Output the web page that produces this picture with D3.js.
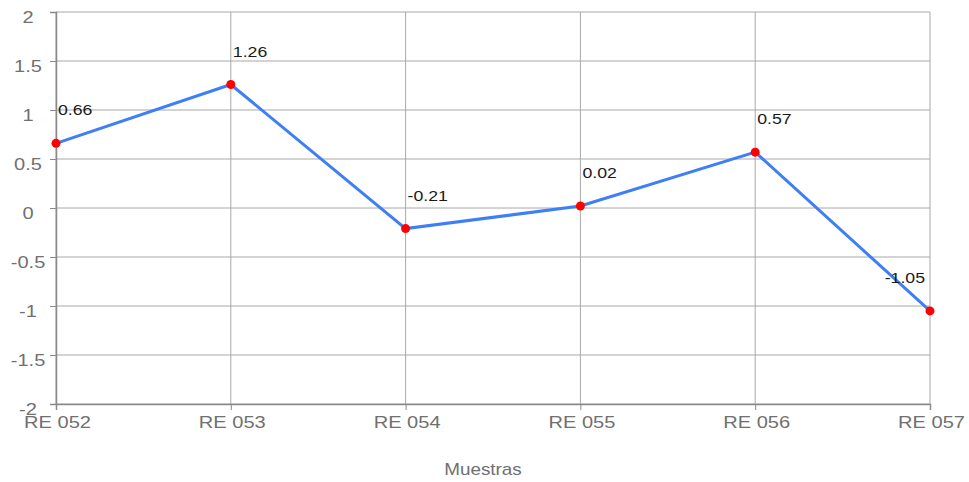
<!DOCTYPE html>
<html>
<head>
<meta charset="utf-8">
<script src="https://cdn.jsdelivr.net/npm/d3@7"></script>
<style>
body { margin:0; background:#fff; }
text { font-family: "Liberation Sans", Arial, sans-serif; }
</style>
</head>
<body>
<svg id="chart" width="969" height="482"></svg>
<script>
// chart data
var categories = ['RE 052', 'RE 053', 'RE 054', 'RE 055', 'RE 056', 'RE 057']
var values = [0.66, 1.26, -0.21, 0.02, 0.57, -1.05]
var yTicks = [-2, -1.5, -1, -0.5, 0, 0.5, 1, 1.5, 2]
var xTitle = 'Muestras'

var S = 1.18 // text in the original is a bit wide
var svg = d3.select('#chart')
var margin = {top:12, left:56, right:39, bottom:78}
var width = 969 - margin.left - margin.right
var height = 482 - margin.top - margin.bottom

var x = d3.scalePoint().domain(categories).range([0, width])
var y = d3.scaleLinear().domain([-2, 2]).range([height, 0])

// put a text at (px,py) and stretch it horizontally
function place(sel, px, py) {
	sel.attr('x', 0).attr('y', 0).attr('dy', null)
		.attr('transform', 'translate(' + px + ',' + py + ') scale(' + S + ',1)')
}

var g = svg.append('g').attr('transform', 'translate(' + margin.left + ',' + margin.top + ')')

// grid
g.append('g').selectAll('line').data(yTicks).enter().append('line')
	.attr('x1', 0).attr('x2', width)
	.attr('y1', function(d) {return y(d)}).attr('y2', function(d) {return y(d)})
	.attr('stroke', '#a8a8a8').attr('stroke-width', 1)
g.append('g').selectAll('line').data(categories).enter().append('line')
	.attr('x1', function(d) {return x(d)}).attr('x2', function(d) {return x(d)})
	.attr('y1', 0).attr('y2', height)
	.attr('stroke', '#a8a8a8').attr('stroke-width', 1)

// axes
var yAxis = g.append('g').call(d3.axisLeft(y).tickValues(yTicks).tickSize(6).tickFormat(function(d) {return String(d)}))
var xAxis = g.append('g').attr('transform', 'translate(0,' + height + ')').call(d3.axisBottom(x).tickSize(6))
;[yAxis, xAxis].forEach(function(a) {
	a.select('.domain').attr('stroke', '#8a8a8a').attr('stroke-width', 1.5)
	a.selectAll('.tick line').attr('stroke', '#8a8a8a')
	a.selectAll('.tick text').attr('fill', '#707070').style('font-size', '17px')
})
yAxis.selectAll('.tick text').attr('text-anchor', 'middle').each(function() {place(d3.select(this), -28, 10)})
xAxis.selectAll('.tick text').attr('text-anchor', 'middle').each(function() {place(d3.select(this), 1, 24)})

// line
var line = d3.line().x(function(d, i) {return x(categories[i])}).y(function(d) {return y(d)})
g.append('path').datum(values).attr('d', line)
	.attr('fill', 'none').attr('stroke', '#3f7ff5').attr('stroke-width', 3)

g.selectAll('circle.pt').data(values).enter().append('circle')
	.attr('cx', function(d, i) {return x(categories[i])})
	.attr('cy', function(d) {return y(d)})
	.attr('r', 4.5).attr('fill', '#ff0000')

// value labels
var last = values.length - 1
g.selectAll('text.val').data(values).enter().append('text')
	.attr('text-anchor', function(d, i) {return i == last ? 'end' : 'start'})
	.attr('fill', '#1a1a1a').style('font-size', '15px')
	.text(function(d) {return String(d)})
	.each(function(d, i) {
		place(d3.select(this), i == last ? x(categories[i]) - 5 : x(categories[i]) + 2, y(d) - 28)
	})

// axis title
svg.append('text').attr('text-anchor', 'middle').attr('fill', '#707070').style('font-size', '16px')
	.text(xTitle)
	.call(place, 483, 475)
</script>
</body>
</html>
